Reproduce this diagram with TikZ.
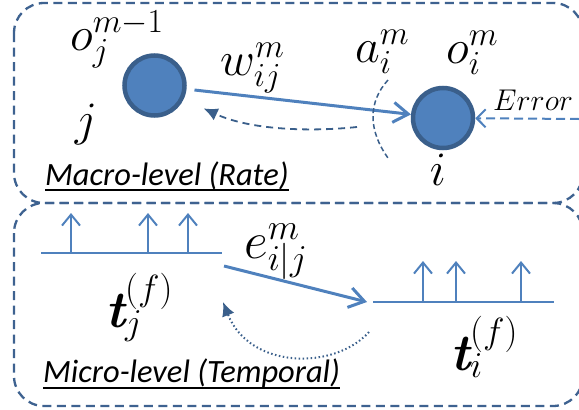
\RequirePackage{fix-cm}
\documentclass[tikz,border=0pt]{standalone}
\usepackage{fontspec}
\newfontfamily\calib{Carlito}
\usetikzlibrary{arrows.meta}
\definecolor{boxc}{HTML}{3E6290}
\definecolor{lite}{HTML}{4F81BD}
\definecolor{dark}{HTML}{3A5F8B}
\newcommand{\bt}{\mbox{\bfseries\itshape t}}
\tikzset{
  regionbox/.style={draw=boxc, line width=2.3pt, dash pattern=on 9pt off 5.5pt, rounded corners=30pt},
  neuron/.style={circle, fill=lite, draw=dark, line width=4.5pt, minimum size=60pt, inner sep=0pt},
  mlbl/.style={inner sep=0pt, anchor=base west, font=\fontsize{48}{52}\selectfont},
  blbl/.style={inner sep=0pt, anchor=base west, font=\fontsize{52}{56}\selectfont},
  tlbl/.style={inner sep=0pt, anchor=base west, font=\calib\itshape\fontsize{32.5}{36}\selectfont},
  weight/.style={draw=lite, line width=3pt, -{Straight Barb[length=15pt,width=20pt,line width=3pt]}},
  spike/.style={draw=lite, line width=2pt, -{Straight Barb[length=11pt,width=18pt,line width=2pt]}},
  train/.style={draw=lite, line width=2pt},
  backprop/.style={draw=dark, line width=1.8pt, dash pattern=on 7pt off 5pt, -{Latex[length=14pt,width=13pt]}},
  backdot/.style={draw=dark, line width=2pt, dash pattern=on 1.5pt off 2.5pt, -{Latex[length=14pt,width=13pt]}},
  errarrow/.style={draw=lite, line width=2pt, dash pattern=on 9pt off 5pt, -{Straight Barb[length=9pt,width=18pt,line width=2pt]}}
}
\begin{document}
\begin{tikzpicture}[x=1pt,y=-1pt]
\useasboundingbox (0,0) rectangle (579,410);
% region boxes
\draw[regionbox] (14,3) rectangle (583,203);
\draw[regionbox] (14,203) rectangle (583,406);
% neurons
\node[neuron] (nj) at (154.5,85.5) {};
\node[neuron] (ni) at (443,118) {};
% forward weight
\draw[weight, shorten <=8pt] (nj) -- (ni);
% backward dashed
\coordinate (bstart) at (357,127);
\draw[backprop, shorten >=22pt] (bstart) .. controls (310,132) and (250,130) .. (nj);
% activation arc
\draw[dark, line width=1.5pt, dash pattern=on 5pt off 3pt] (388,80) .. controls (368,102) and (368,130) .. (388,158);
% error
\coordinate (errstart) at (579,119);
\draw[errarrow] (errstart) -- (ni);
% labels top
\node[mlbl] (loj) at (70,50) {$o_j^{m-1}$};
\node[mlbl, anchor=base] (lj) at (86,135) {$j$};
\node[mlbl] (lw) at (220,75) {$w_{ij}^m$};
\node[mlbl] (la) at (355,62) {$a_i^m$};
\node[mlbl] (loi) at (446,63) {$o_i^m$};
\node[inner sep=0pt, anchor=base west, font=\fontsize{30}{34}\selectfont] (lerr) at (493,110) {$Error$};
\node[mlbl, anchor=base] (li) at (438,185) {$i$};
\node[tlbl] (macro) at (45,185) {Macro-level (Rate)};
\draw[line width=1.8pt] ([yshift=-5pt]macro.base west) -- ([yshift=-5pt]macro.base east);
% spike trains
\draw[train] (41,253) -- (222,253);
\foreach \x in {71,148,188} \draw[spike] (\x,253) -- (\x,213);
\draw[train] (373,302) -- (554,302);
\foreach \x in {423,456,521} \draw[spike] (\x,302) -- (\x,261);
\coordinate (tj) at (224,266);
\coordinate (ti) at (367,302);
\draw[weight] (tj) -- (ti);
\coordinate (dstart) at (369,332);
\coordinate (dend) at (223,302);
\draw[backdot] (dstart) .. controls (335,370) and (250,370) .. (dend);
% labels bottom
\node[blbl] (le) at (244,258) {$e_{i|j}^m$};
\node[blbl] (ltj) at (105,327) {$\bt_j^{(f)}$};
\node[blbl] (lti) at (450,370) {$\bt_i^{(f)}$};
\node[tlbl] (micro) at (43,382) {Micro-level (Temporal)};
\draw[line width=1.8pt] ([yshift=-6pt]micro.base west) -- ([yshift=-6pt]micro.base east);
\end{tikzpicture}
\end{document}
